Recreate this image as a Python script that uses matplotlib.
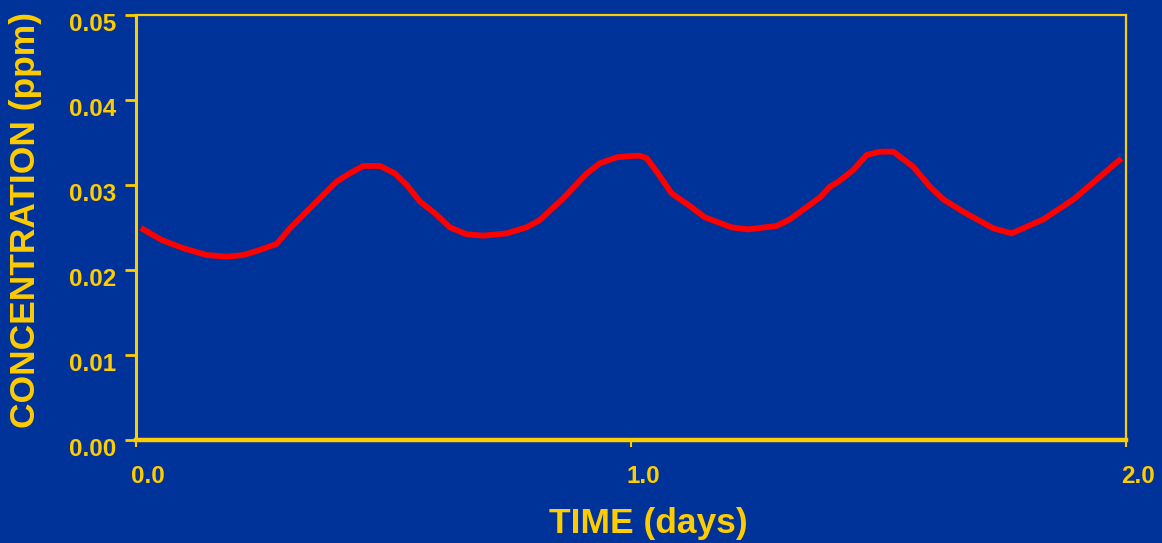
import matplotlib
matplotlib.use("Agg")
import matplotlib.pyplot as plt
import matplotlib.transforms as mtransforms
import numpy as np

# concentration trace
time_days = [0.010, 0.052, 0.096, 0.143, 0.183, 0.217, 0.244, 0.284, 0.311, 0.358,
             0.405, 0.432, 0.459, 0.493, 0.523, 0.547, 0.574, 0.604, 0.634, 0.668,
             0.702, 0.749, 0.789, 0.816, 0.863, 0.911, 0.937, 0.971, 0.998, 1.018,
             1.032, 1.052, 1.082, 1.119, 1.149, 1.203, 1.237, 1.294, 1.321, 1.382,
             1.402, 1.419, 1.449, 1.476, 1.503, 1.530, 1.570, 1.604, 1.631, 1.671,
             1.732, 1.769, 1.833, 1.894, 1.991]
conc_ppm = [0.02494, 0.02353, 0.02255, 0.02176, 0.02157, 0.02176, 0.02224, 0.02306, 0.0249, 0.02765,
            0.03039, 0.03137, 0.03224, 0.03224, 0.03137, 0.0300, 0.02804, 0.02667, 0.02502, 0.0242,
            0.02404, 0.02431, 0.02502, 0.02588, 0.02843, 0.03137, 0.03255, 0.03325, 0.03341, 0.03345,
            0.03314, 0.03157, 0.02902, 0.02753, 0.0262, 0.02502, 0.02478, 0.02518, 0.02596, 0.02855,
            0.0298, 0.03039, 0.03176, 0.03353, 0.03392, 0.03392, 0.03216, 0.0298, 0.02831, 0.02686,
            0.0249, 0.02431, 0.02596, 0.02831, 0.03314]

x_ticks = [0.0, 1.0, 2.0]
x_labels = ["0.0", "1.0", "2.0"]
y_ticks = [0.00, 0.01, 0.02, 0.03, 0.04, 0.05]
y_labels = ["0.00", "0.01", "0.02", "0.03", "0.04", "0.05"]

bg = "#003399"
gold = "#FFCC00"

plt.rcParams['font.family'] = ['Liberation Sans', 'DejaVu Sans']
plt.rcParams['font.weight'] = 'bold'

fig = plt.figure(figsize=(11.62, 5.43), dpi=100, facecolor=bg)
ax = fig.add_axes([136/1162, 103/543, 990/1162, 425/543], facecolor=bg)

ax.plot(time_days, conc_ppm, color="#FF0000", lw=4.2, solid_capstyle='butt')

ax.set_xlim(0, 2.0)
ax.set_ylim(0, 0.05)
ax.set_xticks(x_ticks)
ax.set_xticklabels(x_labels)
ax.set_yticks(y_ticks)
ax.set_yticklabels(y_labels)

for side, w in [("left", 2.2), ("bottom", 3.2), ("top", 1.6), ("right", 1.6)]:
    ax.spines[side].set_color(gold)
    ax.spines[side].set_linewidth(w)

ax.tick_params(axis='y', colors=gold, direction='out', length=8, width=2, pad=6, labelsize=17.5)
ax.tick_params(axis='x', colors=gold, direction='out', length=5, width=1.5, pad=13, labelsize=17.5)

# shift tick labels like the original slide
for lab in ax.get_xticklabels():
    lab.set_transform(lab.get_transform() + mtransforms.ScaledTranslation(12/100, 0, fig.dpi_scale_trans))
    lab.set_fontweight('bold')
for lab in ax.get_yticklabels():
    lab.set_transform(lab.get_transform() + mtransforms.ScaledTranslation(0, -7/100, fig.dpi_scale_trans))
    lab.set_fontweight('bold')

fig.text(648/1162, 1 - 524/543, "TIME (days)", color=gold, fontsize=25.5, fontweight='bold',
         ha='center', va='center')
fig.text(26/1162, 1 - 220/543, "CONCENTRATION (ppm)", color=gold, fontsize=25.5, fontweight='bold',
         ha='center', va='center', rotation=90)

fig.savefig("out.png", dpi=100, facecolor=bg)
